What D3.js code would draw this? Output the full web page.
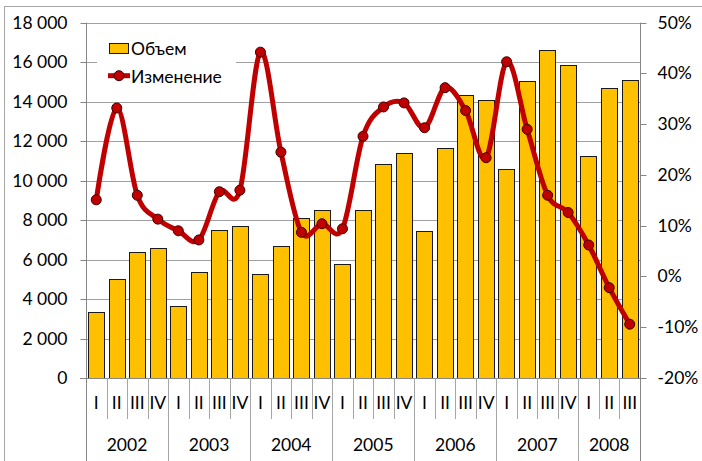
<!DOCTYPE html>
<html>
<head>
<meta charset="utf-8">
<script src="https://cdn.jsdelivr.net/npm/d3@7"></script>
<style>
  body { margin: 0; background: #fff; }
  svg { display: block; font-family: Lato, "Open Sans", sans-serif; }
</style>
</head>
<body>
<svg id="chart"></svg>
<script>
// Data
var years = ['2002', '2003', '2004', '2005', '2006', '2007', '2008'];
var quartersPerYear = [4, 4, 4, 4, 4, 4, 3];
var quarterNames = ['I', 'II', 'III', 'IV'];
var volume = [3350, 5000, 6400, 6570,
              3660, 5350, 7480, 7700,
              5270, 6670, 8120, 8500,
              5760, 8500, 10820, 11400,
              7440, 11660, 14360, 14070,
              10580, 15040, 16640, 15850,
              11260, 14700, 15090];
var change = [15.1, 33.2, 16.0, 11.3,
              9.0, 7.2, 16.7, 17.0,
              44.2, 24.5, 8.7, 10.4,
              9.4, 27.6, 33.4, 34.2,
              29.3, 37.2, 32.7, 23.4,
              42.3, 29.0, 16.0, 12.6,
              6.2, -2.2, -9.4];
var seriesNames = ['Объем', 'Изменение'];
var leftTicks = [0, 2000, 4000, 6000, 8000, 10000, 12000, 14000, 16000, 18000];
var rightTicks = [-20, -10, 0, 10, 20, 30, 40, 50];

var fontSize = '17.5px';

// build category list
var cats = [];
years.forEach(function (y, yi) {
    for (var q = 0; q < quartersPerYear[yi]; q++) {
        cats.push({ year: y, yi: yi, q: quarterNames[q] });
    }
});

var width = 702, height = 461;
var plotL = 86, plotR = 640, plotT = 22.7, plotB = 378;

var svg = d3.select('#chart').attr('width', width).attr('height', height);

// outer chart border
svg.append('rect')
    .attr('x', 4.5).attr('y', 6.5)
    .attr('width', 720).attr('height', 480)
    .attr('fill', 'none').attr('stroke', '#a6a6a6');

var xCat = d3.scaleBand().domain(d3.range(cats.length)).range([plotL, plotR]);
var x = d3.scaleBand().domain(d3.range(cats.length)).range([plotL, plotR])
    .paddingInner(0.2).paddingOuter(0.1);
var yL = d3.scaleLinear().domain([0, 18000]).range([plotB, plotT]);
var yR = d3.scaleLinear().domain([-20, 50]).range([plotB, plotT]);

var fmt = d3.formatLocale({ decimal: ',', thousands: ' ', grouping: [3] }).format(',d');

// gridlines
svg.append('g')
    .selectAll('line')
    .data(leftTicks.filter(function (d) { return d > 0; }))
    .enter().append('line')
    .attr('x1', plotL).attr('x2', plotR)
    .attr('y1', function (d) { return Math.round(yL(d)) + 0.5; })
    .attr('y2', function (d) { return Math.round(yL(d)) + 0.5; })
    .attr('stroke', '#a0a0a0');

// left axis
var gL = svg.append('g').attr('transform', 'translate(' + (plotL + 0.5) + ',0.5)');
gL.call(d3.axisLeft(yL).tickValues(leftTicks).tickFormat(fmt).tickSize(6).tickPadding(13));
gL.select('.domain').remove();
gL.selectAll('.tick line').attr('stroke', '#868686');
gL.selectAll('.tick text').attr('font-size', fontSize).attr('fill', '#000')
    .attr('font-family', 'Lato, sans-serif');
gL.selectAll('.tick').attr('transform', function (d) {
    return 'translate(0,' + Math.round(yL(d)) + ')';
});

// right axis
var gR = svg.append('g').attr('transform', 'translate(' + (plotR + 0.5) + ',0.5)');
gR.call(d3.axisRight(yR).tickValues(rightTicks).tickFormat(function (d) { return d + '%'; })
    .tickSize(6).tickPadding(11));
gR.select('.domain').remove();
gR.selectAll('.tick line').attr('stroke', '#868686');
gR.selectAll('.tick text').attr('font-size', fontSize).attr('fill', '#000')
    .attr('font-family', 'Lato, sans-serif');
gR.selectAll('.tick').attr('transform', function (d) {
    return 'translate(0,' + Math.round(yR(d)) + ')';
});

// bars
svg.append('g')
    .selectAll('rect')
    .data(volume)
    .enter().append('rect')
    .attr('x', function (d, i) { return Math.round(x(i)) + 0.5; })
    .attr('width', Math.round(x.bandwidth()))
    .attr('y', function (d) { return Math.round(yL(d)) + 0.5; })
    .attr('height', function (d) { return Math.round(yL(0)) - Math.round(yL(d)); })
    .attr('fill', '#ffc000')
    .attr('stroke', '#1a1a1a')
    .attr('stroke-width', 1);

// axis lines
svg.append('line')
    .attr('x1', plotL - 6).attr('x2', plotR)
    .attr('y1', Math.round(plotB) + 0.5).attr('y2', Math.round(plotB) + 0.5)
    .attr('stroke', '#868686');
svg.append('line')
    .attr('x1', plotL + 0.5).attr('x2', plotL + 0.5)
    .attr('y1', plotT).attr('y2', height)
    .attr('stroke', '#868686');
svg.append('line')
    .attr('x1', plotR + 0.5).attr('x2', plotR + 0.5)
    .attr('y1', plotT).attr('y2', height)
    .attr('stroke', '#868686');

// category separators
var gX = svg.append('g');
d3.range(1, cats.length).forEach(function (i) {
    var newYear = cats[i].yi !== cats[i - 1].yi;
    var xx = Math.round(xCat(i)) + 0.5;
    gX.append('line')
        .attr('x1', xx).attr('x2', xx)
        .attr('y1', plotB).attr('y2', newYear ? height : 419)
        .attr('stroke', '#a6a6a6');
});

// quarter labels
gX.selectAll('text.q')
    .data(cats)
    .enter().append('text')
    .attr('class', 'q')
    .attr('x', function (d, i) { return xCat(i) + xCat.bandwidth() / 2; })
    .attr('y', 403)
    .attr('dy', '0.36em')
    .attr('text-anchor', 'middle')
    .attr('font-size', fontSize)
    .text(function (d) { return d.q; });

// year labels
gX.selectAll('text.y')
    .data(years)
    .enter().append('text')
    .attr('class', 'y')
    .attr('x', function (d, yi) {
        var idx = cats.map(function (c, i) { return c.yi === yi ? i : -1; })
            .filter(function (i) { return i >= 0; });
        return (xCat(idx[0]) + xCat(idx[idx.length - 1]) + xCat.bandwidth()) / 2;
    })
    .attr('y', 445)
    .attr('dy', '0.36em')
    .attr('text-anchor', 'middle')
    .attr('font-size', fontSize)
    .text(function (d) { return d; });

// legend background
svg.append('rect')
    .attr('x', 97).attr('y', 32).attr('width', 139).attr('height', 58)
    .attr('fill', '#fff');

// line
var cx = function (i) { return xCat(i) + xCat.bandwidth() / 2; };
var line = d3.line()
    .x(function (d, i) { return cx(i); })
    .y(function (d) { return yR(d); })
    .curve(d3.curveCardinal.tension(0));

svg.append('path')
    .datum(change)
    .attr('d', line)
    .attr('fill', 'none')
    .attr('stroke', '#c00000')
    .attr('stroke-width', 5)
    .attr('stroke-linejoin', 'round');

svg.append('g')
    .selectAll('circle')
    .data(change)
    .enter().append('circle')
    .attr('cx', function (d, i) { return cx(i); })
    .attr('cy', function (d) { return yR(d); })
    .attr('r', 5)
    .attr('fill', '#c00000')
    .attr('stroke', '#3a0000')
    .attr('stroke-width', 1);

// legend
var lg = svg.append('g');
lg.append('rect')
    .attr('x', 109.5).attr('y', 43.5).attr('width', 19).attr('height', 10)
    .attr('fill', '#ffc000').attr('stroke', '#1a1a1a');
lg.append('text').attr('x', 131).attr('y', 48.5).attr('dy', '0.36em')
    .attr('font-size', fontSize).text(seriesNames[0]);
lg.append('line')
    .attr('x1', 108).attr('x2', 130).attr('y1', 75.7).attr('y2', 75.7)
    .attr('stroke', '#c00000').attr('stroke-width', 5);
lg.append('circle')
    .attr('cx', 119).attr('cy', 75.7).attr('r', 5)
    .attr('fill', '#c00000').attr('stroke', '#3a0000');
lg.append('text').attr('x', 131).attr('y', 76.5).attr('dy', '0.36em')
    .attr('font-size', fontSize).text(seriesNames[1]);
</script>
</body>
</html>
